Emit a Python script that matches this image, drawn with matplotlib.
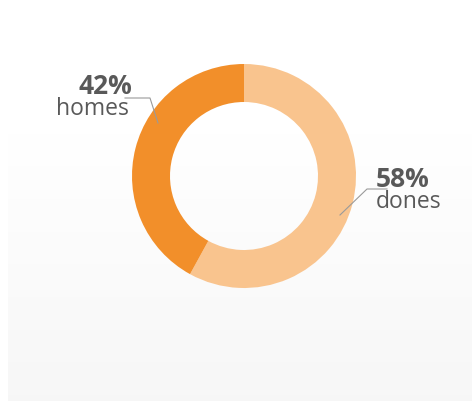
import matplotlib
matplotlib.use("Agg")
import matplotlib.pyplot as plt
import numpy as np

labels = ["dones", "homes"]
values = [58, 42]
colors = ["#f9c48e", "#f28f2a"]

W, H = 472, 401
fig = plt.figure(figsize=(W/100, H/100), dpi=100)
fig.patch.set_facecolor("white")

# gradient background panel
bg = fig.add_axes([8/W, 0, 1-8/W, (H-133)/H])
grad = np.linspace(0.968, 1.0, 256).reshape(-1, 1)
bg.imshow(np.dstack([grad, grad, grad]), aspect="auto", extent=[0, 1, 0, 1], origin="lower")
bg.set_axis_off()

# donut
cx, cy, R = 244, 176, 112
ax = fig.add_axes([(cx-R)/W, (H-cy-R)/H, 2*R/W, 2*R/H])
ax.pie(values, colors=colors, startangle=90, counterclock=False,
       radius=1.0, wedgeprops=dict(width=38/112, edgecolor="none"))
ax.set_xlim(-1, 1); ax.set_ylim(-1, 1)
ax.set_aspect("equal")
ax.set_axis_off()

def px(x, y):
    return (x / W, 1 - y / H)

font = "Open Sans"
txtc = "#595959"
linec = "#9a9a9a"

# homes label
fig.text(*px(132, 86), f"{values[1]}%", ha="right", va="center", fontsize=19,
         fontweight="bold", color=txtc, family=font)
fig.text(*px(129, 109), labels[1], ha="right", va="center", fontsize=16.5,
         color=txtc, family=font)
fig.add_artist(plt.Line2D([125/W, 150/W, 158/W], [1-98/H, 1-98/H, 1-123/H],
                          color=linec, lw=0.8))

# dones label
fig.text(*px(376, 179), f"{values[0]}%", ha="left", va="center", fontsize=19,
         fontweight="bold", color=txtc, family=font)
fig.text(*px(376, 202), labels[0], ha="left", va="center", fontsize=16.5,
         color=txtc, family=font)
fig.add_artist(plt.Line2D([340/W, 367/W, 387/W], [1-215/H, 1-189/H, 1-189/H],
                          color=linec, lw=0.8))

fig.savefig("out.png", dpi=100)
